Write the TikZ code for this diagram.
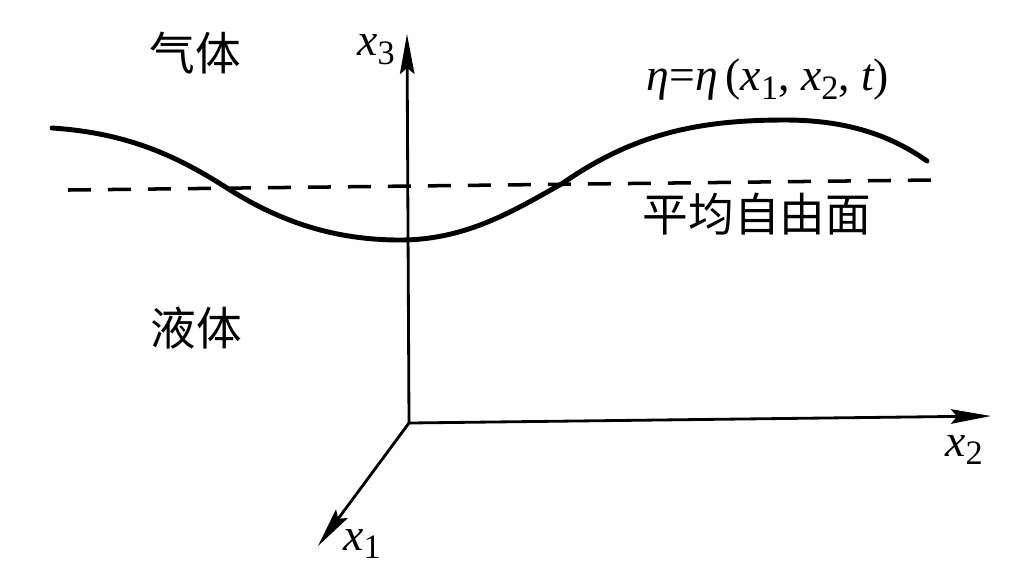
\documentclass[tikz,border=0pt]{standalone}
\usepackage{fontspec}
\setmainfont{Liberation Serif}
\newfontfamily\cjk{Noto Sans CJK SC}
\usetikzlibrary{arrows.meta}
\newcommand{\lsub}[1]{\raisebox{-0.42ex}{\scalebox{0.75}{\upshape #1}}}
\tikzset{
  axis/.style={line width=1.6pt, -{Stealth[length=0.8cm, width=0.29cm, inset=0.12cm]}},
  wave/.style={line width=2.8pt, line cap=round},
  meanline/.style={line width=2pt, dash pattern=on 0.46cm off 0.34cm},
  cjklabel/.style={font=\cjk\fontsize{26}{28}\selectfont, inner sep=0pt},
  mathlabel/.style={font=\fontsize{26}{28}\selectfont, inner sep=0pt}
}
\begin{document}
\begin{tikzpicture}[x=0.02cm, y=-0.02cm]
\useasboundingbox (0,0) rectangle (1024,583);
% axes
\coordinate (O) at (409,423);
\coordinate (X3) at (407,34);
\coordinate (X2) at (991,416);
\coordinate (X1) at (318,546);
\draw[axis] (O) -- (X3);
\draw[axis] (O) -- (X2);
\draw[axis] (O) -- (X1);
% mean free surface
\coordinate (ML) at (68,190);
\coordinate (MR) at (932,180);
\draw[meanline] (ML) -- (MR);
% wave
\coordinate (W0) at (52,128);
\coordinate (W1) at (227,188);
\coordinate (W2) at (400,240);
\coordinate (W3) at (563,183);
\coordinate (W4) at (785,120);
\coordinate (W5) at (927,161);
\draw[wave] (W0) .. controls (130,133) and (180,158) .. (W1)
  .. controls (280,222) and (335,240) .. (W2)
  .. controls (465,240) and (512,212) .. (W3)
  .. controls (635,133) and (700,120) .. (W4)
  .. controls (850,120) and (893,137) .. (W5);
% labels
\node[cjklabel] (gas) at (195,53) {气体};
\node[cjklabel] (liquid) at (196,328) {液体};
\node[cjklabel] (mean) at (757,214) {平均自由面};
\node[mathlabel] (eta) at (768,80) {\itshape η\upshape=\itshape η\thinspace\upshape(\itshape x\lsub{1}\upshape, \itshape x\lsub{2}\upshape, \itshape t\upshape)};
\node[mathlabel] (l3) at (376,50) {\itshape x\lsub{3}};
\node[mathlabel] (l2) at (964,450) {\itshape x\lsub{2}};
\node[mathlabel] (l1) at (362,544) {\itshape x\lsub{1}};
\end{tikzpicture}
\end{document}
